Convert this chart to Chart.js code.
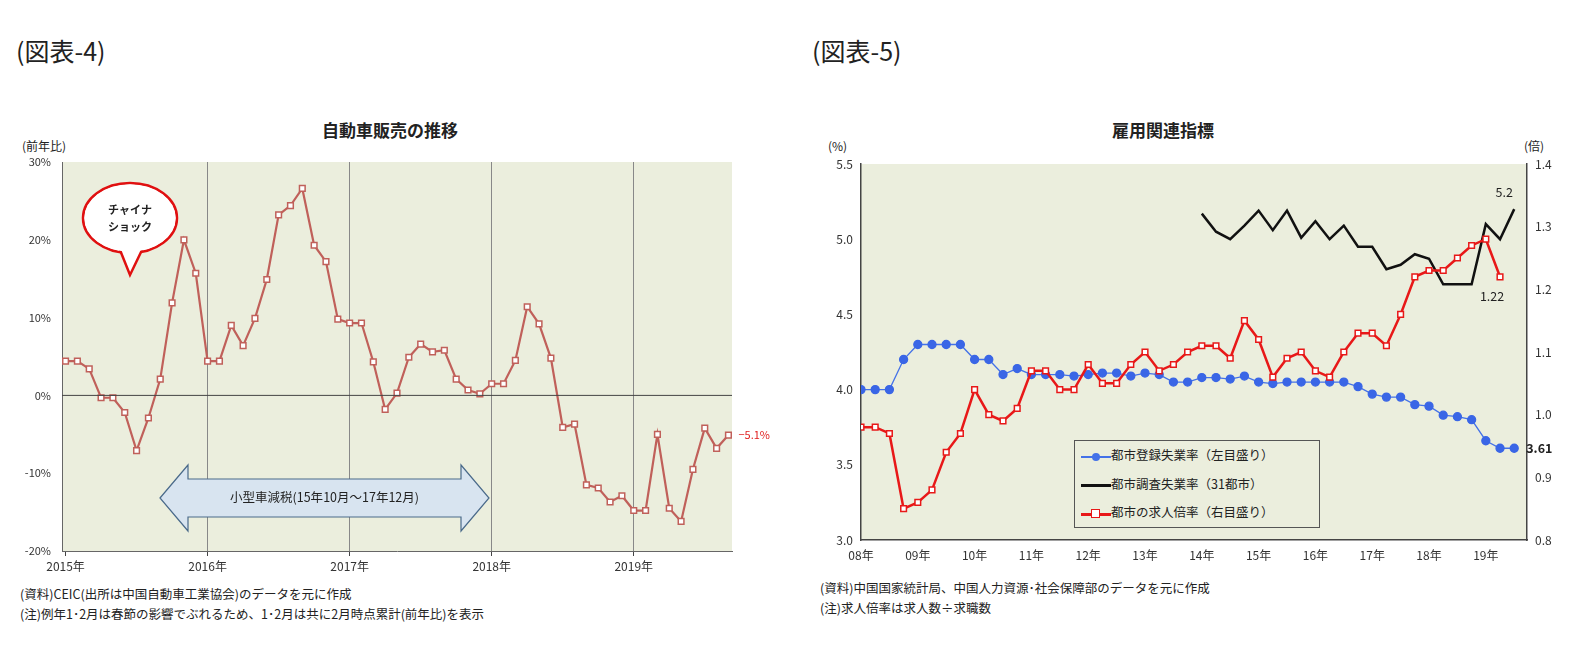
<!DOCTYPE html>
<html><head><meta charset="utf-8">
<script src="https://cdn.jsdelivr.net/npm/chart.js@4"></script>
<style>
body{margin:0;width:1593px;height:653px;background:#fff;position:relative;font-family:"Noto Sans CJK JP",sans-serif;color:#222;overflow:hidden}
.t{position:absolute;white-space:nowrap}
canvas{position:absolute}
</style></head><body>
<div class="t" style="left:16px;top:32px;font-size:25px">(図表-4)</div>
<div class="t" style="left:812px;top:32px;font-size:25px">(図表-5)</div>
<div class="t" style="left:322px;top:117px;font-size:17px;font-weight:bold">自動車販売の推移</div>
<div class="t" style="left:1112px;top:117px;font-size:17px;font-weight:bold">雇用関連指標</div>
<div class="t" style="left:22px;top:137px;font-size:12px">(前年比)</div>
<div class="t" style="left:828px;top:137px;font-size:12px">(%)</div>
<div class="t" style="left:1524px;top:137px;font-size:12px">(倍)</div>
<div class="t" style="left:20px;top:584px;font-size:12.5px">(資料)CEIC(出所は中国自動車工業協会)のデータを元に作成</div>
<div class="t" style="left:20px;top:604px;font-size:12.5px">(注)例年1･2月は春節の影響でぶれるため、1･2月は共に2月時点累計(前年比)を表示</div>
<div class="t" style="left:820px;top:578px;font-size:12.5px">(資料)中国国家統計局、中国人力資源･社会保障部のデータを元に作成</div>
<div class="t" style="left:820px;top:598px;font-size:12.5px">(注)求人倍率は求人数÷求職数</div>
<canvas id="c1" style="left:0;top:150px;width:780px;height:430px" width="780" height="430"></canvas>
<canvas id="c2" style="left:803px;top:150px;width:790px;height:430px" width="790" height="430"></canvas>
<div class="t" style="left:1074px;top:440px;width:244px;height:86px;border:1px solid #555;background:#ebeedd;font-size:12.5px;line-height:28.5px">
<div style="padding-left:6px"><span style="display:inline-block;width:30px;vertical-align:middle;position:relative;height:10px"><span style="position:absolute;left:0;top:4px;width:30px;height:2px;background:#4472e8"></span><span style="position:absolute;left:11px;top:1px;width:8px;height:8px;border-radius:50%;background:#4472e8"></span></span>都市登録失業率（左目盛り）</div>
<div style="padding-left:6px"><span style="display:inline-block;width:30px;vertical-align:middle;position:relative;height:10px"><span style="position:absolute;left:0;top:4px;width:30px;height:3px;background:#111"></span></span>都市調査失業率（31都市）</div>
<div style="padding-left:6px"><span style="display:inline-block;width:30px;vertical-align:middle;position:relative;height:10px"><span style="position:absolute;left:0;top:4px;width:30px;height:3px;background:#e81818"></span><span style="position:absolute;left:10px;top:0px;width:7px;height:7px;border:1.5px solid #e81818;background:#fff"></span></span>都市の求人倍率（右目盛り）</div>
</div>
<script>
const autoSales=[4.4,4.4,3.4,-0.3,-0.3,-2.2,-7.1,-2.9,2.1,11.9,20.0,15.7,
4.4,4.4,9.0,6.4,9.9,14.9,23.2,24.4,26.6,19.3,17.2,9.8,
9.3,9.3,4.3,-1.8,0.3,4.9,6.6,5.6,5.8,2.1,0.7,0.2,
1.5,1.5,4.5,11.4,9.2,4.8,-4.1,-3.7,-11.5,-11.9,-13.7,-12.9,
-14.8,-14.8,-5.0,-14.5,-16.2,-9.5,-4.2,-6.8,-5.1];
const yearLabels1=["2015年","2016年","2017年","2018年","2019年"];
const regUnemp=[4.0,4.0,4.0,4.2,4.3,4.3,4.3,4.3,4.2,4.2,4.1,4.14,4.1,4.1,4.1,4.09,4.1,4.11,4.11,4.09,4.11,4.1,4.05,4.05,4.08,4.08,4.07,4.09,4.05,4.04,4.05,4.05,4.05,4.05,4.05,4.02,3.97,3.95,3.95,3.9,3.89,3.83,3.82,3.8,3.66,3.61,3.61];
const surveyUnemp=[null,null,null,null,null,null,null,null,null,null,null,null,null,null,null,null,null,null,null,null,null,null,null,null,
5.17,5.05,5.0,5.09,5.19,5.06,5.19,5.01,5.12,5.0,5.09,4.95,4.95,4.8,4.83,4.9,4.87,4.7,4.7,4.7,5.1,5.0,5.2];
const jobRatio=[0.98,0.98,0.97,0.85,0.86,0.88,0.94,0.97,1.04,1.0,0.99,1.01,1.07,1.07,1.04,1.04,1.08,1.05,1.05,1.08,1.1,1.07,1.08,1.1,1.11,1.11,1.09,1.15,1.12,1.06,1.09,1.1,1.07,1.06,1.1,1.13,1.13,1.11,1.16,1.22,1.23,1.23,1.25,1.27,1.28,1.22];
const yearLabels2=["08年","09年","10年","11年","12年","13年","14年","15年","16年","17年","18年","19年"];
const F='"Noto Sans CJK JP",sans-serif';
Chart.defaults.font.family=F;Chart.defaults.color='#333';
const bg={id:'bg',beforeDraw(c){const a=c.chartArea,x=c.ctx;x.save();x.fillStyle='#ebeedd';x.fillRect(a.left,a.top,a.width,a.height);x.restore();}};
const pts=a=>a.map((v,i)=>({x:i,y:v}));
const ann1={id:'ann1',afterDatasetsDraw(c){const x=c.ctx,ys=c.scales.y;x.save();
x.strokeStyle='#444';x.lineWidth=1;x.beginPath();x.moveTo(c.chartArea.left,ys.getPixelForValue(0));x.lineTo(c.chartArea.right,ys.getPixelForValue(0));x.stroke();
x.restore();},
afterDraw(c){const x=c.ctx,xs=c.scales.x,ys=c.scales.y;x.save();
x.fillStyle='#fff';x.strokeStyle='#e01010';x.lineWidth=2.5;x.beginPath();x.ellipse(130,68,47,35,0,0,Math.PI*2);x.fill();x.stroke();
x.beginPath();x.moveTo(120,99);x.lineTo(130,125);x.lineTo(142,99);x.closePath();x.fill();
x.beginPath();x.moveTo(120,100);x.lineTo(130,125);x.lineTo(142,100);x.stroke();
x.fillStyle='#fff';x.beginPath();x.ellipse(130,68,45.5,33.5,0,0,Math.PI*2);x.fill();
x.fillStyle='#222';x.font='bold 11px '+F;x.textAlign='center';x.fillText('チャイナ',130,64);x.fillText('ショック',130,81);
const y0=315,y1=381,ym=348,l=160,r=489;x.fillStyle='#d8e4f0';x.strokeStyle='#4a6a8a';x.lineWidth=1.2;
x.beginPath();x.moveTo(l,ym);x.lineTo(l+28,y0);x.lineTo(l+28,y0+14);x.lineTo(r-28,y0+14);x.lineTo(r-28,y0);x.lineTo(r,ym);x.lineTo(r-28,y1);x.lineTo(r-28,y1-14);x.lineTo(l+28,y1-14);x.lineTo(l+28,y1);x.closePath();x.fill();x.stroke();
x.fillStyle='#222';x.font='12.5px '+F;x.fillText('小型車減税(15年10月～17年12月)',(l+r)/2,ym+4);
x.fillStyle='#e02020';x.font='11px '+F;x.textAlign='left';x.fillText('−5.1%',xs.getPixelForValue(56)+10,ys.getPixelForValue(-5.1)+4);
x.restore();}};
new Chart(document.getElementById('c1'),{type:'line',
data:{datasets:[{data:pts(autoSales),borderColor:'#c0605a',borderWidth:2.2,pointStyle:'rect',pointRadius:4,pointBackgroundColor:'#fff',pointBorderColor:'#c0605a',pointBorderWidth:1.5,tension:0}]},
options:{responsive:false,animation:false,layout:{padding:{top:12,right:48,left:0,bottom:0}},plugins:{legend:{display:false},tooltip:{enabled:false}},
scales:{x:{type:'linear',min:-0.3,max:56.3,afterBuildTicks(s){s.ticks=[0,12,24,36,48].map(v=>({value:v}));},afterFit(s){s.height=29;},
ticks:{font:{size:12},color:'#333',callback:(v)=>yearLabels1[v/12],maxRotation:0,autoSkip:false},grid:{color:(c)=>c.tick&&c.tick.value>0?'#888':'transparent',drawTicks:true,tickLength:5,tickColor:'#444'},border:{color:'#666'}},
y:{min:-20,max:30,afterFit(s){s.width=62;},ticks:{stepSize:10,font:{size:11},color:'#333',callback:v=>v+'%'},grid:{display:false,drawTicks:true},border:{color:'#666'}}}},
plugins:[bg,ann1]});
const ann2={id:'ann2',afterDraw(c){const x=c.ctx,xs=c.scales.x,yl=c.scales.y,yr=c.scales.y2;x.save();x.fillStyle='#222';x.font='12.5px '+F;x.textAlign='center';
x.fillText('5.2',xs.getPixelForValue(46)-10,yl.getPixelForValue(5.2)-12);
x.fillText('1.22',xs.getPixelForValue(45)-8,yr.getPixelForValue(1.22)+24);
x.font='bold 12.5px '+F;x.textAlign='left';x.fillText('3.61',xs.getPixelForValue(46)+12,yl.getPixelForValue(3.61)+5);
x.restore();}};
new Chart(document.getElementById('c2'),{type:'line',
data:{datasets:[
{data:pts(regUnemp),yAxisID:'y',borderColor:'#4472e8',borderWidth:1.3,pointStyle:'circle',pointRadius:4,pointBackgroundColor:'#3a66e6',pointBorderColor:'#3a66e6',tension:0,order:3},
{data:pts(surveyUnemp),yAxisID:'y',borderColor:'#111',borderWidth:2.5,pointRadius:0,tension:0,spanGaps:false,order:2},
{data:pts(jobRatio),yAxisID:'y2',borderColor:'#e81818',borderWidth:2.5,pointStyle:'rect',pointRadius:4,pointBackgroundColor:'#fff',pointBorderColor:'#e81818',pointBorderWidth:1.5,tension:0,order:1}]},
options:{responsive:false,animation:false,layout:{padding:{top:14,right:26,left:0,bottom:0}},plugins:{legend:{display:false},tooltip:{enabled:false}},
scales:{x:{type:'linear',min:0,max:46.9,afterBuildTicks(s){s.ticks=yearLabels2.map((_,i)=>({value:i*4}));},afterFit(s){s.height=40;},
ticks:{font:{size:12},color:'#333',callback:(v)=>yearLabels2[v/4],maxRotation:0,autoSkip:false},grid:{display:false,drawTicks:true,tickLength:5,tickColor:'#444'},border:{color:'#444',width:1.5}},
y:{position:'left',min:3.0,max:5.5,afterFit(s){s.width=58;},ticks:{stepSize:0.5,font:{size:12},color:'#333',callback:v=>v.toFixed(1)},grid:{display:false,drawTicks:true,tickLength:5,tickColor:'#444'},border:{color:'#444',width:1.5}},
y2:{position:'right',min:0.8,max:1.4,afterFit(s){s.width=40;},ticks:{stepSize:0.1,font:{size:12},color:'#333',callback:v=>v.toFixed(1)},grid:{display:false,drawTicks:true,tickLength:5,tickColor:'#444'},border:{color:'#444',width:1.5}}}},
plugins:[bg,ann2]});
</script></body></html>
